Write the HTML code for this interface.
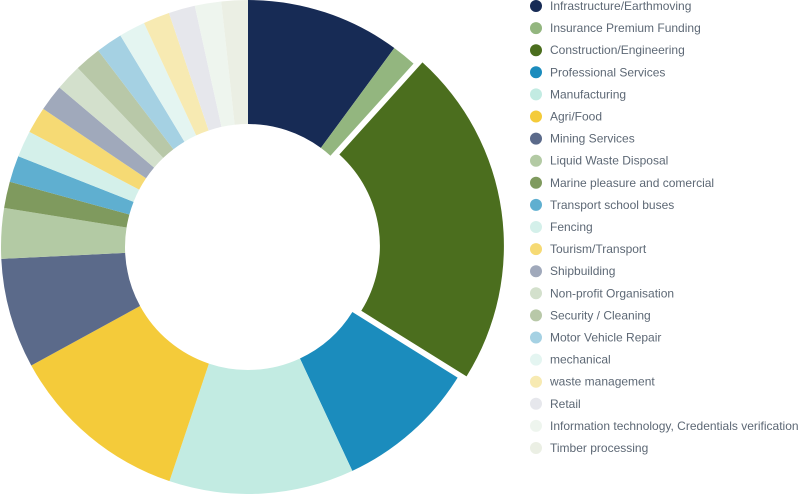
<!DOCTYPE html>
<html><head><meta charset="utf-8"><style>
body{margin:0;background:#fff;width:800px;height:494px;overflow:hidden;font-family:"Liberation Sans",sans-serif}
text{font-family:"Liberation Sans",sans-serif}
</style></head><body>
<svg id="chart" width="800" height="494" xmlns="http://www.w3.org/2000/svg"></svg>
<script>
const categories=["Infrastructure/Earthmoving","Insurance Premium Funding","Construction/Engineering","Professional Services","Manufacturing","Agri/Food","Mining Services","Liquid Waste Disposal","Marine pleasure and comercial","Transport  school buses","Fencing","Tourism/Transport","Shipbuilding","Non-profit Organisation","Security / Cleaning","Motor Vehicle Repair","mechanical","waste management","Retail","Information technology, Credentials verification","Timber processing"];
const values=[10.1,1.6,22.2,9.2,12.1,11.9,7.2,3.3,1.73,1.73,1.73,1.73,1.73,1.73,1.73,1.73,1.73,1.73,1.73,1.73,1.73];
const colors=["#172b55","#93b67f","#4b6e1e","#1b8cbd","#c2ebe2","#f4cb3a","#5b6a8a","#b3caa4","#7f9a5e","#5fafd0","#d4f0ea","#f6da74","#a0a9bb","#d3e0cc","#b8c8a8","#a5d1e3","#e4f5f1","#f7eab2","#e6e7ec","#eef5ee","#ebefe4"];
const explode=[0,0,1,0,0,0,0,0,0,0,0,0,0,0,0,0,0,0,0,0,0];
const svg=document.getElementById('chart');
const NS="http://www.w3.org/2000/svg";
const cx=248,cy=247,ro=247,ri=123;
const total=values.reduce((a,b)=>a+b,0);
function pt(a,r,ox,oy){return [cx+ox+r*Math.sin(a),cy+oy-r*Math.cos(a)];}
let acc=0;
values.forEach((v,i)=>{
  const a0=acc/total*2*Math.PI;acc+=v;const a1=acc/total*2*Math.PI;
  const m=(a0+a1)/2,d=explode[i]?9:0;const ox=d*Math.sin(m),oy=-d*Math.cos(m);
  const p0=pt(a0,ro,ox,oy),p1=pt(a1,ro,ox,oy),p2=pt(a1,ri,ox,oy),p3=pt(a0,ri,ox,oy);
  const lg=(a1-a0)>Math.PI?1:0;
  const p=document.createElementNS(NS,'path');
  p.setAttribute('d',`M${p0[0]},${p0[1]}A${ro},${ro} 0 ${lg} 1 ${p1[0]},${p1[1]}L${p2[0]},${p2[1]}A${ri},${ri} 0 ${lg} 0 ${p3[0]},${p3[1]}Z`);
  p.setAttribute('fill',colors[i]);
  
  
  svg.appendChild(p);
});
categories.forEach((c,i)=>{
  const y=6+i*22.1;
  const g=document.createElementNS(NS,'g');
  
  
  const ci=document.createElementNS(NS,'circle');
  ci.setAttribute('cx',536);ci.setAttribute('cy',y);ci.setAttribute('r',6);ci.setAttribute('fill',colors[i]);
  
  
  const t=document.createElementNS(NS,'text');
  t.setAttribute('x',550);t.setAttribute('y',y+4);t.setAttribute('font-size','12');t.setAttribute('fill','#5d6875');
  
  
  t.textContent=c;
  g.appendChild(ci);g.appendChild(t);svg.appendChild(g);
});
</script>
</body></html>
